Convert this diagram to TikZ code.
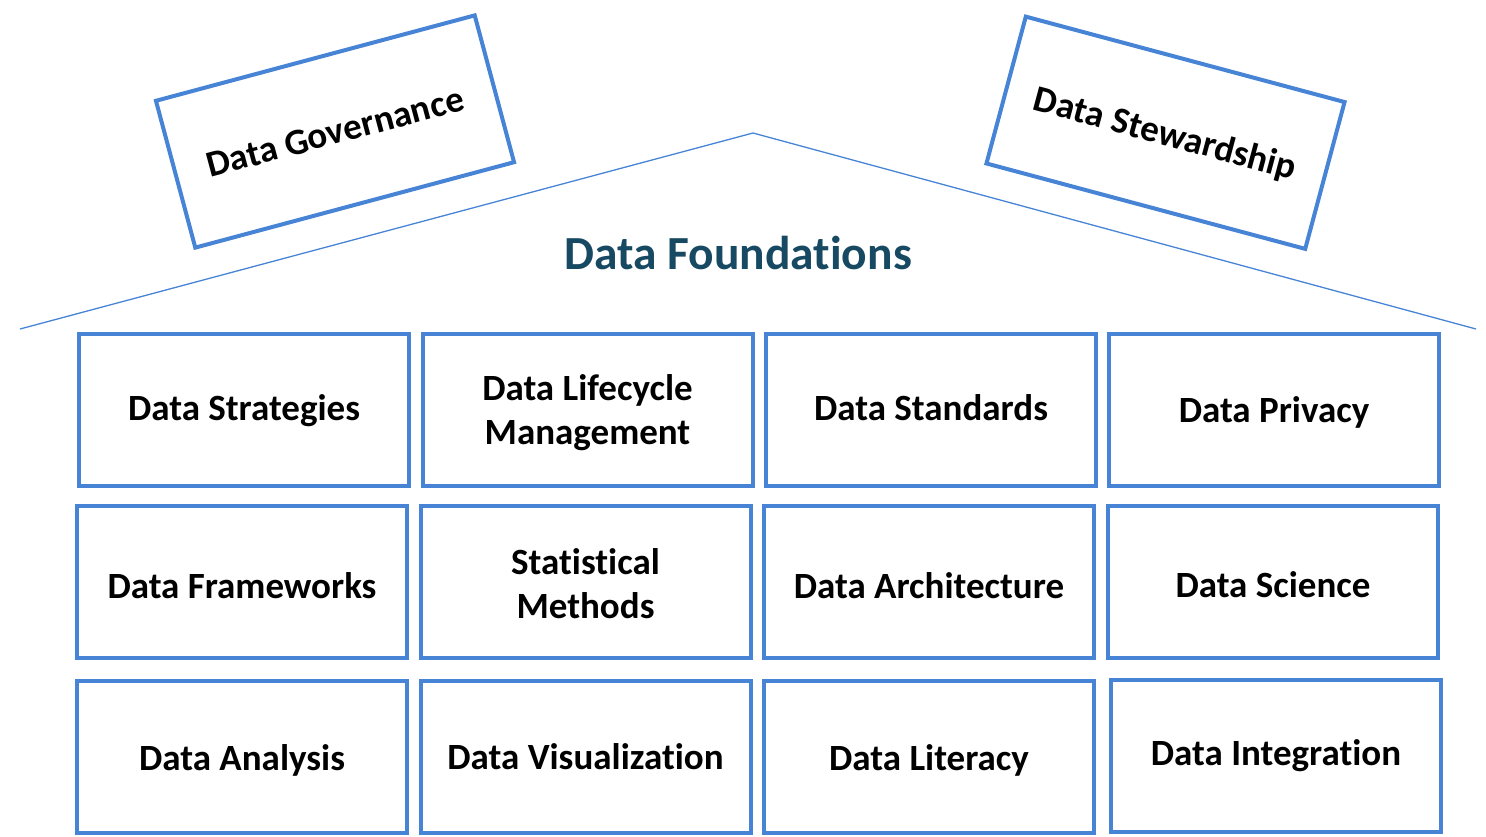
\documentclass[tikz,border=0pt]{standalone}
\usepackage{fontspec}
\setmainfont{Carlito}[Ligatures={NoCommon,NoContextual}]
\definecolor{boxblue}{RGB}{72,132,214}
\definecolor{titleteal}{RGB}{23,74,98}
\begin{document}
\begin{tikzpicture}[x=1pt,y=-1pt,
  tiletext/.style={inner sep=0pt, align=center, text=black, font=\fontsize{37}{44}\selectfont\bfseries},
  tile/.style={draw=boxblue, line width=4pt, minimum width=330pt, minimum height=152pt, tiletext},
  oneline/.style={text height=25pt, text depth=0pt},
  rowtwo/.style={text height=32pt, text depth=0pt},
  rowthree/.style={text height=27pt, text depth=0pt},
  roofline/.style={draw=boxblue, line width=1.3pt},
  titlestyle/.style={text=titleteal, inner sep=0pt, font=\fontsize{47.5}{56}\selectfont\bfseries}
]
\useasboundingbox (0,0) rectangle (1486,836);
\coordinate (roofL) at (20,329);
\coordinate (apex) at (753,133);
\coordinate (roofR) at (1476,329);
\draw[roofline] (roofL) -- (apex) -- (roofR);
\node[titlestyle] (title) at (738,253) {Data Foundations};
\node[tile, oneline, rotate=15] (gov) at (335,131.5) {Data Governance};
\node[tile, oneline, rotate=-15] (stew) at (1165.5,132.75) {Data Stewardship};
% row 1
\node[tile, text height=21pt, text depth=0pt] (strat) at (244,410) {Data Strategies};
\node[tile, label={[tiletext, yshift=-3pt]center:Data Lifecycle\\Management}] (life) at (587.5,410) {};
\node[tile, text height=21pt, text depth=0pt] (stand) at (931,410) {Data Standards};
\node[tile, text height=25pt, text depth=0pt] (priv) at (1274,409.5) {Data Privacy};
% row 2
\node[tile, rowtwo] (frame) at (242,582) {Data Frameworks};
\node[tile, label={[tiletext, yshift=-2pt]center:Statistical\\Methods}] (stat) at (585.5,582) {};
\node[tile, rowtwo] (arch) at (929,582) {Data Architecture};
\node[tile, text height=30pt, text depth=0pt] (sci) at (1273,582) {Data Science};
% row 3
\node[tile, rowthree] (anal) at (242,757) {Data Analysis};
\node[tile, oneline] (vis) at (585.5,757) {Data Visualization};
\node[tile, rowthree] (lit) at (929,757) {Data Literacy};
\node[tile, text height=20pt, text depth=0pt] (integ) at (1276,755.5) {Data Integration};
\end{tikzpicture}
\end{document}
